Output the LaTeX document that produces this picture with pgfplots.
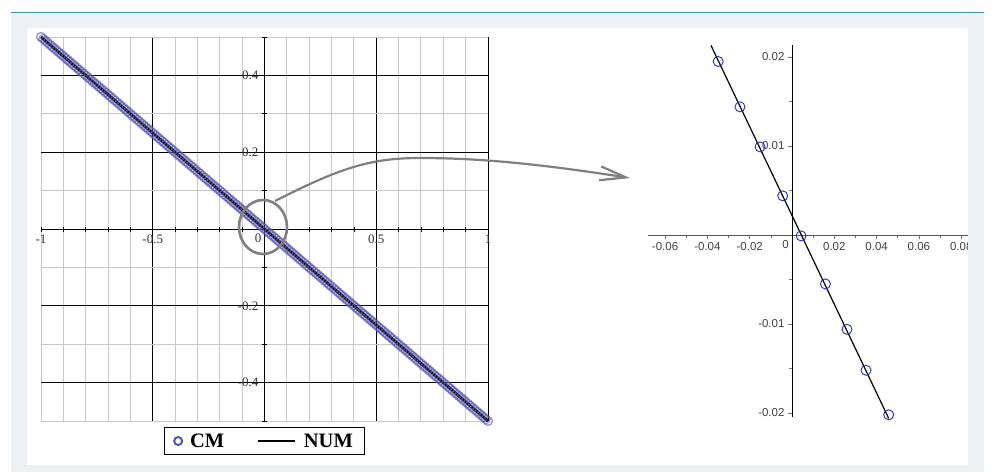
\documentclass[border=0pt]{standalone}
\usepackage{fontspec}
\setmainfont{Liberation Serif}
\newfontfamily\arialfont{Liberation Sans}
\usepackage{pgfplots}
\pgfplotsset{compat=1.18}
\usetikzlibrary{arrows.meta}
\definecolor{panel}{RGB}{237,241,244}
\definecolor{tealline}{RGB}{64,155,170}
\definecolor{cmblue}{RGB}{85,85,172}
\definecolor{cmdot}{RGB}{45,45,190}
\definecolor{arrowgray}{RGB}{128,128,128}
\definecolor{minorgrid}{RGB}{200,200,200}
\pgfplotsset{numline/.style={legend image code/.code={\draw[##1] (0pt,0pt) -- (37pt,0pt);}}}

\begin{document}
\begin{tikzpicture}
% page background
\fill[white] (0,0) rectangle (992pt,-472pt);
\fill[panel] (11pt,-13pt) rectangle (984pt,-472pt);
\draw[tealline, line width=1.5pt] (11pt,-12.5pt) -- (984pt,-12.5pt);
\fill[white] (27pt,-28pt) rectangle (968pt,-465pt);

% left: full range
\begin{axis}[
  at={(264.5pt,-229pt)}, anchor=origin,
  scale only axis, width=447pt, height=384pt,
  xmin=-1, xmax=1, ymin=-0.5, ymax=0.5,
  axis lines=middle, axis line style={-, black, line width=0.9pt},
  clip=false,
  /pgf/number format/assume math mode=true,
  xtick={-0.5,0,0.5,1}, xticklabels={-0.5,{},0.5,1},
  extra x ticks={-1}, extra x tick labels={-1}, extra x tick style={grid=none},
  minor xtick={-1,-0.9,-0.8,-0.7,-0.6,-0.4,-0.3,-0.2,-0.1,0.1,0.2,0.3,0.4,0.6,0.7,0.8,0.9},
  ytick={-0.4,-0.2,0,0.2,0.4}, yticklabels={-0.4,-0.2,{},0.2,0.4},
  minor ytick={-0.5,-0.3,-0.1,0.1,0.3,0.5},
  grid=both,
  major grid style={black, line width=0.8pt},
  minor grid style={minorgrid, line width=1pt},
  tick style={black, line width=0.8pt},
  major tick length=5pt, minor tick length=5pt,
  ticklabel style={font=\fontsize{13}{14}\selectfont, text=black!80},
  scaled ticks=false,
  legend columns=2,
  legend style={at={(0.5,0)}, anchor=north, yshift=-6pt, draw=black,
    line width=1pt, inner xsep=10pt, inner ysep=4pt,
    font=\fontsize{20.5}{22}\selectfont\bfseries,
    /tikz/every odd column/.append style={column sep=6pt},
    /tikz/every even column/.append style={column sep=30pt}},
]
\addlegendimage{only marks, mark=o, mark size=4pt, cmblue, line width=2pt}
\addlegendentry{CM}
\addlegendimage{black, line width=2.6pt, numline}
\addlegendentry{NUM}
% CM
\addplot[forget plot, only marks, mark=o, mark size=4.4pt, draw=cmblue,
  draw opacity=0.6, line width=1.4pt] coordinates {
(-1.00,0.500)(-0.99,0.495)(-0.98,0.490)(-0.97,0.485)(-0.96,0.480)(-0.95,0.475)(-0.94,0.470)(-0.93,0.465)(-0.92,0.460)(-0.91,0.455)
(-0.90,0.450)(-0.89,0.445)(-0.88,0.440)(-0.87,0.435)(-0.86,0.430)(-0.85,0.425)(-0.84,0.420)(-0.83,0.415)(-0.82,0.410)(-0.81,0.405)
(-0.80,0.400)(-0.79,0.395)(-0.78,0.390)(-0.77,0.385)(-0.76,0.380)(-0.75,0.375)(-0.74,0.370)(-0.73,0.365)(-0.72,0.360)(-0.71,0.355)
(-0.70,0.350)(-0.69,0.345)(-0.68,0.340)(-0.67,0.335)(-0.66,0.330)(-0.65,0.325)(-0.64,0.320)(-0.63,0.315)(-0.62,0.310)(-0.61,0.305)
(-0.60,0.300)(-0.59,0.295)(-0.58,0.290)(-0.57,0.285)(-0.56,0.280)(-0.55,0.275)(-0.54,0.270)(-0.53,0.265)(-0.52,0.260)(-0.51,0.255)
(-0.50,0.250)(-0.49,0.245)(-0.48,0.240)(-0.47,0.235)(-0.46,0.230)(-0.45,0.225)(-0.44,0.220)(-0.43,0.215)(-0.42,0.210)(-0.41,0.205)
(-0.40,0.200)(-0.39,0.195)(-0.38,0.190)(-0.37,0.185)(-0.36,0.180)(-0.35,0.175)(-0.34,0.170)(-0.33,0.165)(-0.32,0.160)(-0.31,0.155)
(-0.30,0.150)(-0.29,0.145)(-0.28,0.140)(-0.27,0.135)(-0.26,0.130)(-0.25,0.125)(-0.24,0.120)(-0.23,0.115)(-0.22,0.110)(-0.21,0.105)
(-0.20,0.100)(-0.19,0.095)(-0.18,0.090)(-0.17,0.085)(-0.16,0.080)(-0.15,0.075)(-0.14,0.070)(-0.13,0.065)(-0.12,0.060)(-0.11,0.055)
(-0.10,0.050)(-0.09,0.045)(-0.08,0.040)(-0.07,0.035)(-0.06,0.030)(-0.05,0.025)(-0.04,0.020)(-0.03,0.015)(-0.02,0.010)(-0.01,0.005)
(0.00,0.000)
(0.01,-0.005)(0.02,-0.010)(0.03,-0.015)(0.04,-0.020)(0.05,-0.025)(0.06,-0.030)(0.07,-0.035)(0.08,-0.040)(0.09,-0.045)(0.10,-0.050)
(0.11,-0.055)(0.12,-0.060)(0.13,-0.065)(0.14,-0.070)(0.15,-0.075)(0.16,-0.080)(0.17,-0.085)(0.18,-0.090)(0.19,-0.095)(0.20,-0.100)
(0.21,-0.105)(0.22,-0.110)(0.23,-0.115)(0.24,-0.120)(0.25,-0.125)(0.26,-0.130)(0.27,-0.135)(0.28,-0.140)(0.29,-0.145)(0.30,-0.150)
(0.31,-0.155)(0.32,-0.160)(0.33,-0.165)(0.34,-0.170)(0.35,-0.175)(0.36,-0.180)(0.37,-0.185)(0.38,-0.190)(0.39,-0.195)(0.40,-0.200)
(0.41,-0.205)(0.42,-0.210)(0.43,-0.215)(0.44,-0.220)(0.45,-0.225)(0.46,-0.230)(0.47,-0.235)(0.48,-0.240)(0.49,-0.245)(0.50,-0.250)
(0.51,-0.255)(0.52,-0.260)(0.53,-0.265)(0.54,-0.270)(0.55,-0.275)(0.56,-0.280)(0.57,-0.285)(0.58,-0.290)(0.59,-0.295)(0.60,-0.300)
(0.61,-0.305)(0.62,-0.310)(0.63,-0.315)(0.64,-0.320)(0.65,-0.325)(0.66,-0.330)(0.67,-0.335)(0.68,-0.340)(0.69,-0.345)(0.70,-0.350)
(0.71,-0.355)(0.72,-0.360)(0.73,-0.365)(0.74,-0.370)(0.75,-0.375)(0.76,-0.380)(0.77,-0.385)(0.78,-0.390)(0.79,-0.395)(0.80,-0.400)
(0.81,-0.405)(0.82,-0.410)(0.83,-0.415)(0.84,-0.420)(0.85,-0.425)(0.86,-0.430)(0.87,-0.435)(0.88,-0.440)(0.89,-0.445)(0.90,-0.450)
(0.91,-0.455)(0.92,-0.460)(0.93,-0.465)(0.94,-0.470)(0.95,-0.475)(0.96,-0.480)(0.97,-0.485)(0.98,-0.490)(0.99,-0.495)(1.00,-0.500)
};
% NUM
\addplot[forget plot, black, line width=2.8pt] coordinates {(-1,0.5)(0,0)(1,-0.5)};
\node[anchor=north east, font=\fontsize{13}{14}\selectfont, text=black!80, inner sep=2pt]
  at (axis cs:0,0) [yshift=-3pt, xshift=-1pt] {0};
\end{axis}

% right: zoom near the origin
\begin{axis}[
  at={(792pt,-235pt)}, anchor=origin,
  scale only axis, width=319.4pt, height=372pt,
  xmin=-0.068, xmax=0.083, ymin=-0.0205, ymax=0.0213,
  axis lines=middle, axis line style={-},
  x axis line style={black!65, line width=0.8pt},
  y axis line style={black, line width=0.9pt},
  clip=false,
  /pgf/number format/assume math mode=true,
  scaled ticks=false,
  xtick={-0.06,-0.04,-0.02,0.02,0.04,0.06,0.08},
  xticklabels={-0.06,-0.04,-0.02,0.02,0.04,0.06,0.08},
  minor xtick={-0.05,-0.03,-0.01,0.01,0.03,0.05,0.07},
  ytick={-0.02,-0.01,0.01,0.02},
  yticklabels={-0.02,-0.01,0.01,0.02},
  minor ytick={-0.015,-0.005,0.005,0.015},
  tick style={black!55, line width=0.6pt},
  xtick align=outside, ytick align=outside,
  major tick length=4pt, minor tick length=3pt,
  ticklabel style={font=\arialfont\fontsize{11.5}{12}\selectfont, text=black!75},
]
% NUM
\addplot[black, line width=1.2pt] coordinates {(-0.0383,0.0213)(0.0457,-0.0206)};
% CM
\addplot[only marks, mark=o, mark size=5pt, draw=cmdot, line width=0.9pt] coordinates {
(-0.0349,0.0195)(-0.0246,0.0144)(-0.0151,0.0099)(-0.0044,0.0044)(0.0043,-0.0001)
(0.0158,-0.0055)(0.0260,-0.0106)(0.0350,-0.0152)(0.0457,-0.0202)
};
\node[anchor=north east, font=\arialfont\fontsize{11.5}{12}\selectfont, text=black!75, inner sep=2pt]
  at (axis cs:0,0) [yshift=-3pt, xshift=-1pt] {0};
\end{axis}

% cover the clipped label at the panel edge
\fill[panel] (968pt,-28pt) rectangle (984pt,-465pt);

% zoom annotation
\draw[arrowgray, line width=2.6pt] (263pt,-227pt) ellipse [x radius=24pt, y radius=27pt];
\draw[arrowgray, line width=2.2pt, -{Straight Barb[length=26pt,width=14pt]}]
  (275pt,-201pt) .. controls (340pt,-168pt) and (370pt,-158pt) .. (420pt,-158pt)
  .. controls (480pt,-158pt) and (540pt,-164pt) .. (630pt,-178pt);

\pgfresetboundingbox
\useasboundingbox (0,0) rectangle (992pt,-472pt);
\end{tikzpicture}
\end{document}
